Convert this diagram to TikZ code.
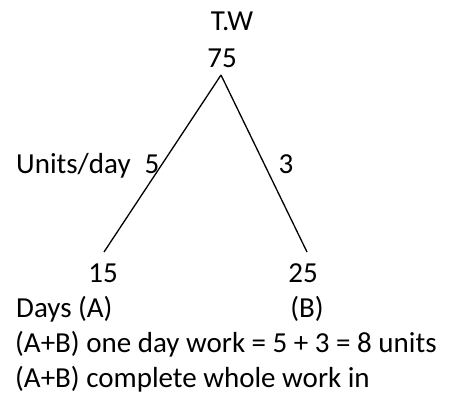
\documentclass[tikz,border=0pt]{standalone}
\usepackage{fontspec}
\setmainfont{Carlito}
\usepackage{tikz}
\usetikzlibrary{positioning}

\begin{document}
\begin{tikzpicture}[
    x=1pt, y=-1pt,
    txt/.style={font=\fontsize{29}{35}\selectfont, inner sep=0pt, anchor=base},
    lefttxt/.style={txt, anchor=base west},
    branch/.style={draw, line width=1.3pt, color=black}
]
    \useasboundingbox (0,0) rectangle (450,392);

    % Top of the tree
    \node[txt] (tw) at (232,30) {T.W};
    \node[txt] (total) at (222,67) {75};
    \coordinate (apex) at (221,75);

    % Rates per day
    \node[lefttxt] (units) at (16,173) {Units/day};
    \node[txt] (rateA) at (152,173) {5};
    \node[txt] (rateB) at (286,173) {3};

    % Days of each
    \node[txt] (daysA) at (103,282) {15};
    \node[txt] (daysB) at (303,282) {25};
    \coordinate (endA) at (104,252);
    \coordinate (endB) at (307,252);
    \node[lefttxt] (labA) at (16,317) {Days (A)};
    \node[txt] (labB) at (307,317) {(B)};

    % Working lines
    \node[lefttxt] (oneday) at (15,352) {(A+B) one day work = 5 + 3 = 8 units};
    \node[lefttxt] (whole) at (15,387) {(A+B) complete whole work in};

    % Branches
    \path [branch] (apex) -- (endA);
    \path [branch] (apex) -- (endB);
\end{tikzpicture}
\end{document}
